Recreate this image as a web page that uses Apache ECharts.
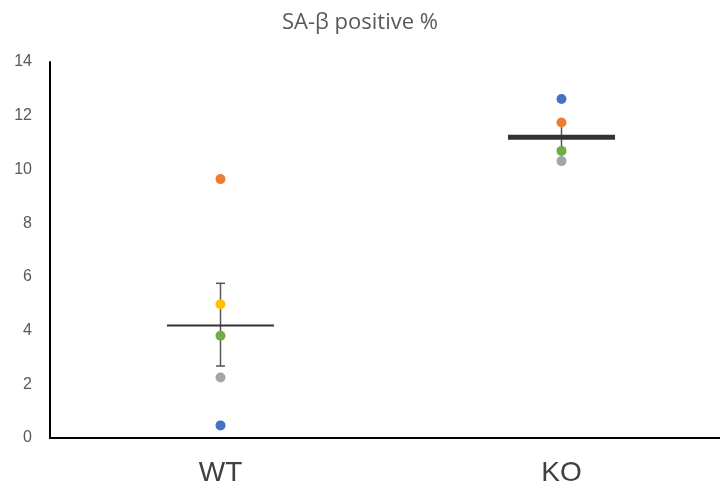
<!DOCTYPE html>
<html><head><meta charset="utf-8">
<script src="https://cdn.jsdelivr.net/npm/echarts@6/dist/echarts.min.js"></script>
<style>html,body{margin:0;padding:0;background:#fff}#c{width:720px;height:487px}</style>
</head><body><div id="c"></div>
<script>
const categories = ['WT', 'KO'];
const blueVals   = [0.47, 12.62];
const orangeVals = [9.64, 11.75];
const grayVals   = [2.25, 10.31];
const yellowVals = [4.98, null];
const greenVals  = [3.81, 10.69];
const means      = [4.19, 11.2];
const errLow     = [2.68, 10.77];
const errHigh    = [5.76, 11.7];
const yTicks     = [0, 2, 4, 6, 8, 10, 12, 14];

const pointSeries = [
  ['blue', blueVals, '#4472C4'],
  ['orange', orangeVals, '#ED7D31'],
  ['gray', grayVals, '#A5A5A5'],
  ['yellow', yellowVals, '#FFC000'],
  ['green', greenVals, '#70AD47']
];

const chart = echarts.init(document.getElementById('c'));
const series = [];
series.push({
  type: 'custom',
  z: 1,
  data: categories.map((c, i) => [i, means[i], errLow[i], errHigh[i]]),
  renderItem: function (params, api) {
    const i = api.value(0);
    const m = api.coord([i, api.value(1)]);
    const lo = api.coord([i, api.value(2)]);
    const hi = api.coord([i, api.value(3)]);
    const half = api.size([1, 0])[0] * 0.157;
    const cap = 4.5;
    const lw = i === 1 ? 5 : 2;
    const eb = '#555555';
    return {
      type: 'group',
      children: [
        { type: 'line', shape: { x1: lo[0], y1: lo[1], x2: hi[0], y2: hi[1] }, style: { stroke: eb, lineWidth: 1.5 } },
        { type: 'line', shape: { x1: lo[0] - cap, y1: lo[1], x2: lo[0] + cap, y2: lo[1] }, style: { stroke: eb, lineWidth: 1.5 } },
        { type: 'line', shape: { x1: hi[0] - cap, y1: hi[1], x2: hi[0] + cap, y2: hi[1] }, style: { stroke: eb, lineWidth: 1.5 } },
        { type: 'line', shape: { x1: m[0] - half, y1: m[1], x2: m[0] + half, y2: m[1] }, style: { stroke: '#333333', lineWidth: lw } }
      ]
    };
  }
});
pointSeries.forEach(([name, vals, color]) => {
  series.push({
    name: name,
    type: 'scatter',
    z: 3,
    symbolSize: 10,
    itemStyle: { color: color, opacity: 1 },
    data: categories.map((c, i) => vals[i] == null ? null : [i, vals[i]]).filter(d => d)
  });
});

chart.setOption({
  animation: false,
  backgroundColor: '#fff',
  title: {
    text: 'SA-β positive %',
    left: 'center',
    top: 7,
    textStyle: { fontFamily: 'Open Sans', fontSize: 22, fontWeight: 'normal', color: '#595959' }
  },
  grid: { left: 50, width: 682, top: 62, bottom: 49, containLabel: false, outerBoundsMode: 'none' },
  xAxis: {
    type: 'category',
    data: categories,
    boundaryGap: true,
    axisLine: { lineStyle: { color: '#000', width: 2 } },
    axisTick: { show: false },
    axisLabel: { fontFamily: 'Liberation Sans', fontSize: 28, color: '#404040', margin: 21 },
    splitLine: { show: false }
  },
  yAxis: {
    type: 'value',
    min: yTicks[0],
    max: yTicks[yTicks.length - 1],
    interval: 2,
    axisLine: { show: true, lineStyle: { color: '#000', width: 2 } },
    axisTick: { show: false },
    axisLabel: { fontFamily: 'Liberation Sans', fontSize: 16, color: '#595959', margin: 18 },
    splitLine: { show: false }
  },
  series: series
});
</script>
</body></html>
